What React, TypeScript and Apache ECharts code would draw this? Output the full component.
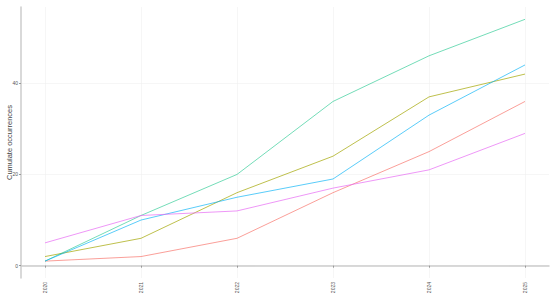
import React, { useEffect, useRef } from "react";
import * as echarts from "echarts";

const years = [2020, 2021, 2022, 2023, 2024, 2025];
const seriesRed = [1, 2, 6, 16, 25, 36];
const seriesOlive = [2, 6, 16, 24, 37, 42];
const seriesGreen = [1, 11, 20, 36, 46, 54];
const seriesBlue = [1, 10, 15, 19, 33, 44];
const seriesPink = [5, 11, 12, 17, 21, 29];
const yTicks = [0, 20, 40];

const seriesList = [
  { name: "A", data: seriesRed, color: "rgba(248,118,109,0.7)" },
  { name: "B", data: seriesOlive, color: "rgba(163,165,0,0.7)" },
  { name: "C", data: seriesGreen, color: "rgba(0,191,125,0.55)" },
  { name: "D", data: seriesBlue, color: "rgba(0,176,246,0.65)" },
  { name: "E", data: seriesPink, color: "rgba(231,107,243,0.7)" },
];

export default function App() {
  const ref = useRef<HTMLDivElement>(null);
  useEffect(() => {
    if (!ref.current) return;
    const chart = echarts.init(ref.current, null, { renderer: "svg" });
    chart.setOption({
      animation: false,
      grid: { left: 21, right: 1, top: 7, bottom: 17, containLabel: false, outerBoundsMode: "none" },
      xAxis: {
        type: "value",
        min: 2019.75,
        max: 2025.25,
        axisLine: { show: true, lineStyle: { color: "#cccccc", width: 1.5 } },
        axisTick: { show: true, customValues: years, length: 2, lineStyle: { color: "#999" } },
        axisLabel: {
          customValues: years,
          rotate: 90,
          fontSize: 5,
          color: "#555",
          margin: 4,
          fontFamily: "Liberation Sans",
          formatter: (v: number) => String(v),
        },
        splitLine: { show: true, lineStyle: { color: "#f0f0f0", width: 0.6 } },
      },
      yAxis: {
        type: "value",
        min: -2.7,
        max: 56.7,
        name: "Cumulate occurrences",
        nameLocation: "middle",
        nameGap: 8,
        nameMoveOverlap: false,
        nameTextStyle: { fontSize: 7.5, color: "#444", fontFamily: "Liberation Sans" },
        axisLine: { show: true, lineStyle: { color: "#cccccc", width: 1.5 } },
        axisTick: { show: true, customValues: yTicks, length: 2, lineStyle: { color: "#999" } },
        axisLabel: {
          customValues: yTicks,
          fontSize: 5,
          color: "#555",
          margin: 3,
          fontFamily: "Liberation Sans",
        },
        splitLine: { show: true, lineStyle: { color: "#f0f0f0", width: 0.6 } },
      },
      series: seriesList.map((s) => ({
        name: s.name,
        type: "line",
        data: years.map((y, i) => [y, s.data[i]]),
        showSymbol: false,
        symbol: "none",
        lineStyle: { color: s.color, width: 1 },
        itemStyle: { color: s.color },
      })),
    });
    return () => chart.dispose();
  }, []);
  return <div ref={ref} style={{ width: 550, height: 295, position: "absolute", left: 0, top: 0 }} />;
}
